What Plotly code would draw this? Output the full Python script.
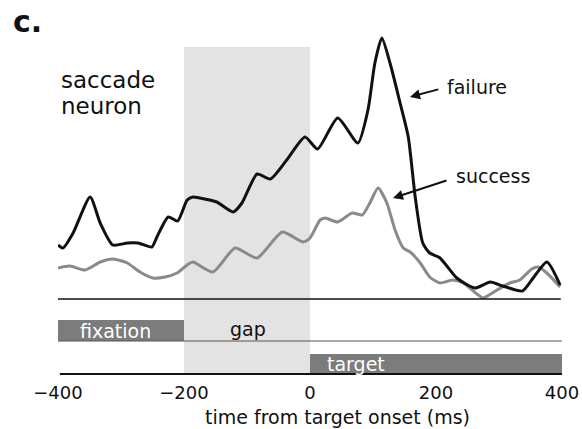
import plotly.graph_objects as go

# ---- data (time from target onset in ms, firing rate in arbitrary units) ----
fail_t = [-400, -392, -376, -349, -333, -313, -290, -273, -251, -243, -225, -210,
          -195, -186, -175, -148, -122, -108, -84, -63, -37, -8, 12, 44, 76, 92,
          103, 114, 127, 143, 156, 167, 179, 190, 206, 233, 262, 286, 306, 337,
          352, 376, 397]
fail_v = [21.6, 20.4, 26.4, 40.8, 30.4, 21.6, 22.4, 22.4, 20.8, 24.8, 32.8, 31.2,
          39.6, 40.8, 40.4, 38.8, 34.8, 38.4, 50.0, 48.0, 55.6, 64.8, 60.0, 72.4, 62.4, 75.6,
          94.4, 104.4, 94.4, 78.4, 64.8, 40.8, 22.4, 18.4, 16.5, 8.4, 4.4, 6.8, 5.2, 3.2,
          7.6, 14.8, 5.6]

succ_t = [-400, -381, -357, -333, -313, -290, -270, -249, -230, -211, -195, -186,
          -154, -119, -84, -44, -11, 0, 16, 24, 44, 67, 83, 95, 108, 122, 135, 148,
          159, 175, 190, 206, 227, 243, 267, 275, 297, 317, 333, 352, 362, 376, 397]
succ_v = [12.4, 13.2, 11.6, 14.8, 16.0, 14.4, 10.8, 8.4, 8.8, 10.4, 13.6, 14.8,
          10.8, 20.4, 16.4, 26.8, 22.8, 24.4, 31.6, 32.4, 30.8, 34.4, 33.6, 38.4, 44.4, 38.4, 27.6, 20.4,
          18.8, 14.4, 8.8, 6.4, 7.6, 6.4, 1.6, 0.4, 3.6, 6.4, 7.6, 12.0, 12.8, 10.4, 4.8]

# epochs (ms)
fixation = [-400, -200]
gap = [-200, 0]
target = [0, 405]
tick_vals = [-400, -200, 0, 200, 400]

FONT = "DejaVu Sans"

fig = go.Figure()
fig.add_trace(go.Scatter(x=succ_t, y=succ_v, mode="lines", name="success",
                         line=dict(color="#8a8a8a", width=3, shape="spline", smoothing=0.6)))
fig.add_trace(go.Scatter(x=fail_t, y=fail_v, mode="lines", name="failure",
                         line=dict(color="#111111", width=3, shape="spline", smoothing=0.6)))

shapes = [
    # gap shading
    dict(type="rect", xref="x", yref="y", x0=gap[0], x1=gap[1], y0=-30, y1=100.8,
         fillcolor="#e3e3e3", line=dict(width=0), layer="below"),
    # baseline
    dict(type="line", xref="x", yref="y", x0=-400, x1=398, y0=0, y1=0,
         line=dict(color="#111111", width=1.5)),
    # fixation bar
    dict(type="rect", xref="x", yref="y", x0=fixation[0], x1=fixation[1], y0=-16.8, y1=-8.4,
         fillcolor="#7c7c7c", line=dict(width=0)),
    # fixation/gap line
    dict(type="line", xref="x", yref="y", x0=-400, x1=404, y0=-16.8, y1=-16.8,
         line=dict(color="#555555", width=1)),
    # target bar
    dict(type="rect", xref="x", yref="y", x0=target[0], x1=target[1], y0=-30, y1=-22,
         fillcolor="#7c7c7c", line=dict(width=0)),
    # axis line
    dict(type="line", xref="x", yref="y", x0=-397, x1=405, y0=-30, y1=-30,
         line=dict(color="#111111", width=2)),
]

ann = [
    dict(text="<b>c.</b>", xref="paper", yref="paper", x=-0.093, y=1.023,
         xanchor="left", yanchor="middle", showarrow=False,
         font=dict(family=FONT, size=30, color="#111111")),
    dict(text="saccade", xref="paper", yref="paper", x=0.002, y=0.857,
         xanchor="left", yanchor="middle", showarrow=False,
         font=dict(family=FONT, size=23, color="#111111")),
    dict(text="neuron", xref="paper", yref="paper", x=0.002, y=0.783,
         xanchor="left", yanchor="middle", showarrow=False,
         font=dict(family=FONT, size=23, color="#111111")),
    dict(text="failure", xref="x", yref="y", x=214, y=84.8,
         xanchor="left", yanchor="middle", showarrow=False,
         font=dict(family=FONT, size=19, color="#111111")),
    dict(text="success", xref="x", yref="y", x=229, y=49.2,
         xanchor="left", yanchor="middle", showarrow=False,
         font=dict(family=FONT, size=19, color="#111111")),
    # arrows
    dict(text="", xref="x", yref="y", x=158.7, y=80.8, axref="x", ayref="y",
         ax=206, ay=84, showarrow=True, arrowhead=2, arrowsize=1, arrowwidth=2,
         arrowcolor="#111111"),
    dict(text="", xref="x", yref="y", x=131.7, y=40.4, axref="x", ayref="y",
         ax=219, ay=47.6, showarrow=True, arrowhead=2, arrowsize=1, arrowwidth=2,
         arrowcolor="#111111"),
    # epoch labels
    dict(text="fixation", xref="x", yref="y", x=-309, y=-12.6,
         xanchor="center", yanchor="middle", showarrow=False,
         font=dict(family=FONT, size=19, color="white")),
    dict(text="gap", xref="x", yref="y", x=-98, y=-12.0,
         xanchor="center", yanchor="middle", showarrow=False,
         font=dict(family=FONT, size=19, color="#111111")),
    dict(text="target", xref="x", yref="y", x=24, y=-26.0,
         xanchor="left", yanchor="middle", showarrow=False,
         font=dict(family=FONT, size=19, color="white")),
    # axis title
    dict(text="time from target onset (ms)", xref="x", yref="paper", x=44, y=-0.106,
         xanchor="center", yanchor="middle", showarrow=False,
         font=dict(family=FONT, size=19, color="#111111")),
]

fig.update_layout(
    template="none",
    width=582, height=429,
    margin=dict(l=58, r=20, t=30, b=49, pad=0, autoexpand=False),
    paper_bgcolor="white", plot_bgcolor="white",
    showlegend=False,
    shapes=shapes, annotations=ann,
    xaxis=dict(range=[-400, 400], tickvals=tick_vals, showgrid=False, zeroline=False,
               automargin=False, showline=False, ticks="",
               tickfont=dict(family=FONT, size=18, color="#111111")),
    yaxis=dict(range=[-32.4, 107.6], visible=False, automargin=False),
)

fig.write_html("out.html")
